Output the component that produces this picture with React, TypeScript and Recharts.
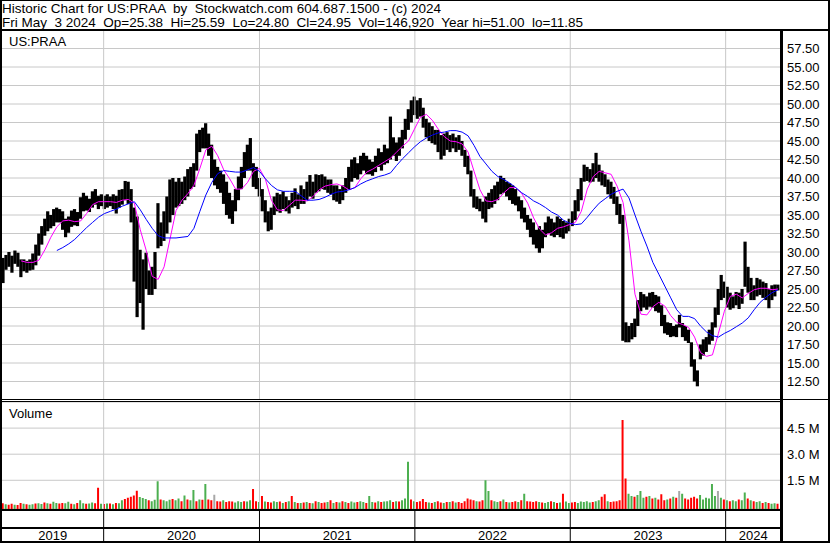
import React from "react"
import {
  ComposedChart,
  Bar,
  Line,
  Scatter,
  XAxis,
  YAxis,
  CartesianGrid,
  ReferenceLine,
  Cell,
} from "recharts"

// weekly bars, week 0 = Fri May 10 2019, week 260 = Fri May 3 2024
const START_FRIDAY = Date.UTC(2019, 4, 10)
const WEEK_MS = 7 * 24 * 3600 * 1000
const weekOf = (iso: string) => (Date.parse(iso) - START_FRIDAY) / WEEK_MS
const X_DOMAIN: [number, number] = [-0.4, 261]

const years = ["2019", "2020", "2021", "2022", "2023", "2024"]
const yearStarts = ["2020-01-01", "2021-01-01", "2022-01-01", "2023-01-01", "2024-01-01"]

const priceTicks = [12.5, 15, 17.5, 20, 22.5, 25, 27.5, 30, 32.5, 35, 37.5, 40, 42.5, 45, 47.5, 50, 52.5, 55, 57.5]
const volumeTicks = [1500000, 3000000, 4500000]

const priceHigh = [
  29.2, 29.6, 30.0, 29.5, 30.2, 29.9, 29.0, 29.0, 28.8, 29.0,
  29.8, 31.0, 32.5, 33.5, 34.5, 35.5, 35.0, 35.8, 36.0, 35.8,
  35.5, 34.5, 34.8, 35.6, 35.8, 35.4, 37.4, 38.0, 37.6, 37.2,
  38.2, 38.5, 37.6, 37.8, 37.6, 37.8, 37.5, 37.8, 37.6, 38.4,
  38.5, 39.6, 39.5, 38.5, 36.0, 34.8, 30.3, 29.0, 29.9, 27.5,
  28.0, 30.0, 36.6, 34.0, 35.5, 37.5, 39.8, 40.0, 39.5, 40.0,
  39.5, 40.2, 41.2, 41.5, 42.0, 46.0, 46.5, 46.8, 47.4, 46.0,
  44.5, 42.5, 41.5, 41.0, 40.5, 39.5, 38.0, 37.0, 38.5, 40.2,
  41.5, 43.5, 44.5, 45.4, 42.0, 41.5, 40.0, 38.5, 37.0, 35.5,
  36.0, 37.5, 38.0, 37.8, 38.2, 37.5, 37.0, 38.0, 38.6, 37.8,
  39.0, 38.5, 39.5, 40.4, 39.5, 40.5, 40.4, 40.5, 40.2, 39.8,
  39.8, 39.0, 39.0, 38.5, 39.0, 40.0, 41.5, 42.5, 42.8, 42.0,
  43.0, 43.4, 43.0, 42.5, 42.2, 43.0, 44.0, 43.5, 44.5, 44.0,
  48.3, 45.5, 44.8, 45.5, 46.5, 48.0, 49.3, 50.5, 51.0, 50.5,
  50.8, 49.5, 48.0, 47.5, 47.0, 46.5, 46.5, 45.8, 46.0, 46.2,
  45.8, 46.0, 45.5, 45.8, 45.0, 43.8, 43.0, 41.0, 38.5, 37.5,
  37.2, 36.8, 37.5, 38.0, 38.5, 39.0, 39.5, 40.3, 40.0, 39.5,
  39.3, 39.0, 38.5, 37.5, 37.0, 36.0, 35.0, 34.5, 34.0, 33.0,
  33.5, 33.0, 34.0, 34.8, 34.5, 34.0, 34.8, 34.5, 34.2, 34.0,
  34.5, 35.5, 37.0, 38.5, 40.0, 41.8, 41.5, 41.2, 42.0, 43.4,
  41.8, 41.0, 40.5, 39.8, 39.5, 38.8, 37.5, 36.5, 35.0, 20.5,
  20.0, 20.4, 21.0, 23.5, 24.6, 24.3, 24.0, 24.5, 24.6, 24.2,
  24.0, 22.8, 21.5, 20.5, 20.4, 20.0, 20.2, 21.5, 20.4, 20.0,
  19.5, 17.8, 15.5, 14.0, 17.5, 18.2, 18.5, 19.5, 20.5, 22.5,
  25.0, 26.9, 26.0, 25.3, 24.5, 24.0, 24.6, 24.5, 25.0, 31.4,
  28.0, 26.5, 25.5, 26.5, 26.3, 26.0, 25.8, 25.0, 25.5, 25.6,
  25.59,
]

const priceLow = [
  25.8, 27.6, 28.0, 27.2, 28.4, 28.0, 26.6, 27.4, 27.2, 27.5,
  27.6, 28.2, 29.5, 31.0, 32.2, 32.8, 33.2, 33.5, 34.0, 34.0,
  33.0, 32.0, 32.6, 33.4, 33.6, 33.5, 34.5, 35.5, 35.6, 35.4,
  36.0, 36.4, 35.8, 36.2, 35.8, 36.0, 36.2, 35.8, 35.2, 36.0,
  36.4, 37.0, 36.5, 34.0, 26.0, 21.2, 23.1, 19.5, 25.0, 24.2,
  24.2, 25.0, 30.5, 30.8, 31.5, 32.5, 34.0, 35.0, 36.0, 36.2,
  36.5, 37.0, 37.5, 38.5, 38.8, 41.0, 43.5, 44.0, 44.0, 43.0,
  40.0, 39.0, 38.5, 38.0, 36.5, 35.0, 34.5, 33.8, 35.5, 37.0,
  38.5, 40.0, 41.0, 41.0, 38.8, 38.5, 37.5, 35.5, 34.0, 32.8,
  33.0, 35.0, 35.5, 35.3, 35.8, 35.5, 35.2, 36.0, 36.2, 35.8,
  36.5, 36.5, 37.0, 37.5, 37.2, 38.0, 38.2, 38.5, 38.4, 38.0,
  37.8, 37.0, 36.8, 36.5, 37.0, 38.0, 38.5, 39.5, 40.0, 39.8,
  40.5, 41.0, 40.5, 40.5, 40.3, 40.8, 41.5, 41.0, 41.8, 42.0,
  42.5, 43.0, 42.3, 43.0, 44.0, 45.2, 46.5, 47.5, 48.5, 48.0,
  48.3, 46.8, 45.5, 45.0, 44.7, 44.5, 43.5, 42.5, 43.0, 43.8,
  43.5, 44.0, 43.5, 43.8, 43.0, 41.5, 40.5, 37.5, 36.0, 35.8,
  35.5, 34.5, 34.0, 35.8, 36.0, 36.5, 37.0, 37.8, 38.0, 37.5,
  37.0, 36.5, 36.3, 35.5, 34.5, 34.0, 33.0, 32.0, 31.0, 30.5,
  29.9, 30.5, 32.0, 32.5, 32.2, 32.0, 32.3, 32.0, 31.8, 32.5,
  32.8, 33.5, 34.3, 35.5, 37.0, 39.5, 39.6, 39.4, 39.5, 40.0,
  39.5, 39.0, 38.8, 37.8, 37.2, 36.5, 35.0, 33.8, 18.0, 17.8,
  17.8, 18.2, 18.5, 20.0, 22.0, 22.5, 22.2, 22.6, 22.5, 22.0,
  21.8, 20.0, 19.0, 18.8, 18.5, 18.6, 18.5, 19.8, 18.5, 18.0,
  17.7, 14.5, 12.5, 11.85, 15.5, 16.0, 16.5, 17.5, 18.0, 19.8,
  21.5, 23.5, 23.8, 22.5, 22.2, 22.4, 22.8, 22.3, 23.0, 25.3,
  24.5, 23.5, 23.5, 24.0, 24.2, 23.8, 23.5, 22.4, 23.5, 24.0,
  24.8,
]

// moving averages, read every 2nd week
const FAST_FIRST = 6
const SLOW_FIRST = 18
const MA_STEP = 2

const maFast = [
  28.8, 28.6, 28.6, 28.9, 30.3, 32.0, 33.4, 34.2, 34.3, 34.1,
  34.2, 35.2, 36.4, 36.8, 36.8, 36.8, 36.7, 37.0, 37.1, 36.6,
  33.0, 30.2, 26.7, 26.3, 28.0, 31.8, 35.6, 37.0, 37.9, 39.0,
  41.3, 43.8, 44.3, 43.0, 41.1, 39.9, 38.5, 38.5, 39.4, 40.9,
  41.3, 39.8, 37.0, 35.7, 35.6, 36.3, 37.0, 37.0, 36.9, 37.5,
  38.4, 38.9, 39.1, 39.2, 38.9, 38.4, 38.7, 39.9, 40.8, 41.2,
  41.7, 42.2, 42.7, 43.5, 44.3, 45.0, 46.6, 48.2, 48.6, 47.8,
  46.6, 45.6, 45.0, 44.9, 44.6, 43.5, 40.9, 38.4, 36.9, 36.8,
  37.1, 38.0, 38.7, 38.7, 37.9, 36.6, 34.6, 33.1, 32.3, 32.6,
  33.2, 33.4, 33.7, 34.0, 35.5, 38.5, 40.2, 40.9, 40.7, 40.5,
  38.9, 36.7, 31.5, 24.3, 21.6, 21.5, 22.6, 23.2, 22.7, 21.4,
  20.5, 20.2, 19.8, 18.5, 16.4, 15.9, 16.1, 19.0, 22.0, 24.0,
  24.3, 23.8, 24.4, 24.9, 25.1, 25.1, 24.9, 25.0,
]

const maSlow = [
  30.2, 30.6, 31.1, 31.7, 32.5, 33.3, 34.0, 34.7, 35.2, 35.5,
  35.8, 36.2, 36.5, 36.8, 35.7, 34.4, 33.2, 32.2, 31.9, 31.9,
  31.9, 32.0, 32.1, 33.2, 35.5, 37.7, 39.4, 40.6, 41.0, 40.9,
  40.8, 40.8, 41.1, 41.4, 40.9, 39.9, 39.0, 38.4, 38.2, 38.2,
  38.2, 37.6, 37.0, 37.0, 37.1, 37.4, 37.8, 38.1, 38.2, 38.4,
  38.7, 39.2, 39.6, 39.9, 40.2, 40.4, 40.7, 41.7, 42.6, 43.4,
  44.2, 44.9, 45.4, 45.8, 46.1, 46.2, 46.4, 46.4, 46.2, 45.7,
  44.4, 42.9, 41.9, 40.9, 40.2, 39.8, 39.3, 38.7, 38.0, 37.5,
  36.9, 36.5, 36.0, 35.4, 35.0, 34.3, 33.9, 33.7, 33.8, 34.7,
  35.7, 36.6, 37.2, 37.8, 38.2, 38.5, 37.3, 35.0, 32.8, 30.8,
  28.6, 27.0, 25.4, 23.8, 22.2, 21.3, 21.3, 21.0, 20.0, 19.2,
  18.7, 18.5, 19.0, 19.4, 19.9, 20.4, 21.1, 22.2, 23.2, 23.9,
  24.5, 24.9,
]

// volume in thousands of shares
const volumeK = [
  180, 120, 90, 150, 100, 80, 200, 150, 120, 100,
  130, 160, 180, 140, 220, 180, 150, 260, 200, 160,
  200, 180, 260, 150, 130, 200, 350, 180, 150, 160,
  220, 180, 1070, 150, 140, 160, 170, 130, 200, 180,
  350, 430, 500, 550, 620, 900, 540, 480, 430, 360,
  300, 380, 1450, 400, 350, 300, 380, 420, 360, 450,
  300, 620, 400, 350, 940, 300, 400, 380, 1280, 400,
  350, 670, 300, 280, 350, 250, 300, 280, 220, 300,
  250, 300, 280, 350, 1000, 300, 250, 600, 280, 250,
  220, 300, 250, 280, 200, 250, 300, 600, 250, 200,
  200, 220, 250, 200, 180, 300, 250, 200, 220, 250,
  350, 200, 250, 220, 300, 250, 200, 280, 220, 250,
  300, 250, 200, 600, 250, 220, 300, 250, 280, 300,
  350, 250, 300, 280, 350, 450, 2570, 400, 300, 250,
  300, 420, 250, 220, 200, 250, 300, 220, 200, 250,
  250, 300, 220, 250, 200, 300, 450, 400, 350, 300,
  280, 350, 1500, 880, 350, 300, 250, 300, 400, 250,
  220, 250, 300, 250, 350, 720, 300, 280, 250, 300,
  250, 220, 200, 250, 300, 250, 200, 220, 720, 280,
  200, 220, 250, 200, 280, 250, 300, 220, 250, 300,
  350, 550, 700, 300, 250, 280, 300, 350, 4970, 1600,
  720, 600, 550, 650, 880, 500, 550, 600, 450, 500,
  400, 700, 350, 400, 450, 550, 500, 880, 720, 450,
  400, 500, 550, 450, 650, 400, 500, 450, 1280, 600,
  880, 500, 400, 350, 300, 350, 300, 400, 350, 800,
  450, 350, 300, 250, 300, 200, 250, 200, 150, 180,
  147,
]

// r = down, g = up, n = unchanged
const volumeColor =
  "rgrrgrrgrg" + "grggrgrggr" + "rggrgrggrg" + "grrgrgrgrg" + "grrrrrgggr" +
  "gggrgggrgg" + "rgrggrgrgr" + "rnrrgrrrgg" + "grggrrgrgr" + "rggrgrgrgr" +
  "grgrgrgrrg" + "rgrgrgrggr" + "ggrggrgrgg" + "grgrgggrgr" + "rrrgrgrrgr" +
  "grgrrrrrrg" + "rrggrggrgr" + "grrgrgrrrr" + "grggrgrgrg" + "grrgggggrg" +
  "grrgrrrrrr" + "ggrgggrgrg" + "rrrgrgrngr" + "rrrrgggggg" + "ngrgrggrgg" +
  "rgrggrgrgg" + "r"

const COLORS: Record<string, string> = { r: "#ff0000", g: "#4caf50", n: "#a8a8a8" }
const GRID = "#c8c8c8"
const VOL_BASE = -150000
const FONT = '"Liberation Sans", Arial, sans-serif'

const maAt = (arr: number[], first: number, w: number) =>
  w >= first && (w - first) % MA_STEP === 0 ? arr[(w - first) / MA_STEP] ?? null : null

const priceRows = priceHigh.map((hi, w) => ({
  w,
  range: [priceLow[w], hi],
  fast: maAt(maFast, FAST_FIRST, w),
  slow: maAt(maSlow, SLOW_FIRST, w),
}))

const volumeRows = volumeK.map((v, w) => ({
  w,
  vol: [VOL_BASE, v * 1000],
  color: COLORS[volumeColor[w]] ?? COLORS.n,
}))

const bounds = [X_DOMAIN[0], ...yearStarts.map(weekOf), X_DOMAIN[1]]
const yearRows = years.map((label, i) => ({
  x: (bounds[i] + bounds[i + 1]) / 2,
  y: 0.22,
  label,
}))

const yearLines = (stroke: string) =>
  yearStarts.map((d) => (
    <ReferenceLine key={d} x={weekOf(d)} stroke={stroke} ifOverflow="extendDomain" />
  ))

const line = (left: number, top: number, width: number, height: number) => (
  <div style={{ position: "absolute", left, top, width, height, background: "#000" }} />
)

// weekly hi-lo stroke, a bit wider than the slot so the band reads solid
const PriceStroke = (props: any) => {
  const { x, y, width, height } = props
  if (height == null || isNaN(y)) return null
  const cx = x + width / 2
  return <rect x={cx - 1.6} y={y} width={3.2} height={Math.max(height, 1)} fill="#000" />
}

const YearLabel = (props: any) => {
  const { cx, cy, payload } = props
  return (
    <text x={cx} y={cy + 4.6} textAnchor="middle" fontSize={13} fill="#000">
      {payload.label}
    </text>
  )
}

const titleStyle: React.CSSProperties = {
  position: "absolute",
  left: 2,
  fontSize: 13.5,
  lineHeight: "15px",
  whiteSpace: "pre",
}

export default function App() {
  return (
    <div
      style={{
        position: "absolute",
        left: 0,
        top: 0,
        width: 830,
        height: 543,
        background: "#fff",
        fontFamily: FONT,
        color: "#000",
        overflow: "hidden",
      }}
    >
      <div style={{ ...titleStyle, top: 1 }}>
        {"Historic Chart for US:PRAA  by  Stockwatch.com 604.687.1500 - (c) 2024"}
      </div>
      <div style={{ ...titleStyle, top: 15 }}>
        {"Fri May  3 2024  Op=25.38  Hi=25.59  Lo=24.80  Cl=24.95  Vol=146,920  Year hi=51.00  lo=11.85"}
      </div>

      <div style={{ position: "absolute", left: 0, top: 30 }}>
        <ComposedChart width={830} height={370} data={priceRows} margin={{ top: 0, right: 0, left: 2, bottom: 0 }}>
          <CartesianGrid vertical={false} stroke={GRID} />
          {yearLines(GRID)}
          <XAxis type="number" dataKey="w" domain={X_DOMAIN} allowDataOverflow hide />
          <YAxis
            orientation="right"
            width={49}
            domain={[10, 60]}
            ticks={priceTicks}
            interval={0}
            tickFormatter={(v: number) => v.toFixed(2)}
            axisLine={false}
            tickLine={false}
            tickSize={4}
            tickMargin={2}
            tick={{ fontSize: 13, fill: "#000" }}
          />
          <Bar dataKey="range" fill="#000" shape={PriceStroke} isAnimationActive={false} />
          <Line dataKey="fast" stroke="#ff00ff" strokeWidth={1} dot={false} connectNulls isAnimationActive={false} />
          <Line dataKey="slow" stroke="#0000ff" strokeWidth={1} dot={false} connectNulls isAnimationActive={false} />
        </ComposedChart>
      </div>

      <div style={{ position: "absolute", left: 0, top: 402 }}>
        <ComposedChart width={830} height={107} data={volumeRows} margin={{ top: 0, right: 0, left: 2, bottom: 0 }}>
          <CartesianGrid vertical={false} stroke={GRID} />
          {yearLines(GRID)}
          <XAxis type="number" dataKey="w" domain={X_DOMAIN} allowDataOverflow hide />
          <YAxis
            orientation="right"
            width={49}
            domain={[VOL_BASE, 6000000]}
            ticks={volumeTicks}
            interval={0}
            tickFormatter={(v: number) => `${(v / 1e6).toFixed(1)} M`}
            axisLine={false}
            tickLine={false}
            tickSize={4}
            tickMargin={2}
            tick={{ fontSize: 13, fill: "#000" }}
          />
          <Bar dataKey="vol" barSize={2} isAnimationActive={false}>
            {volumeRows.map((r) => (
              <Cell key={r.w} fill={r.color} />
            ))}
          </Bar>
        </ComposedChart>
      </div>

      <div style={{ position: "absolute", left: 0, top: 510 }}>
        <ComposedChart width={830} height={32} data={yearRows} margin={{ top: 0, right: 49, left: 2, bottom: 0 }}>
          <XAxis type="number" dataKey="x" domain={X_DOMAIN} allowDataOverflow hide />
          <YAxis type="number" dataKey="y" domain={[0, 1]} hide />
          {yearLines("#000")}
          <Scatter dataKey="y" shape={YearLabel} isAnimationActive={false} />
        </ComposedChart>
      </div>

      <div style={{ position: "absolute", left: 9, top: 34, fontSize: 13, lineHeight: "15px" }}>US:PRAA</div>
      <div style={{ position: "absolute", left: 9, top: 406, fontSize: 13, lineHeight: "15px" }}>Volume</div>

      {line(0, 0, 830, 1)}
      {line(0, 0, 2, 543)}
      {line(828, 0, 2, 543)}
      {line(0, 29, 830, 2)}
      {line(0, 399, 830, 1)}
      {line(0, 401, 781, 1)}
      {line(0, 509, 781, 2)}
      {line(0, 527, 781, 2)}
      {line(0, 541, 830, 2)}
      {line(780, 30, 3, 513)}
    </div>
  )
}
